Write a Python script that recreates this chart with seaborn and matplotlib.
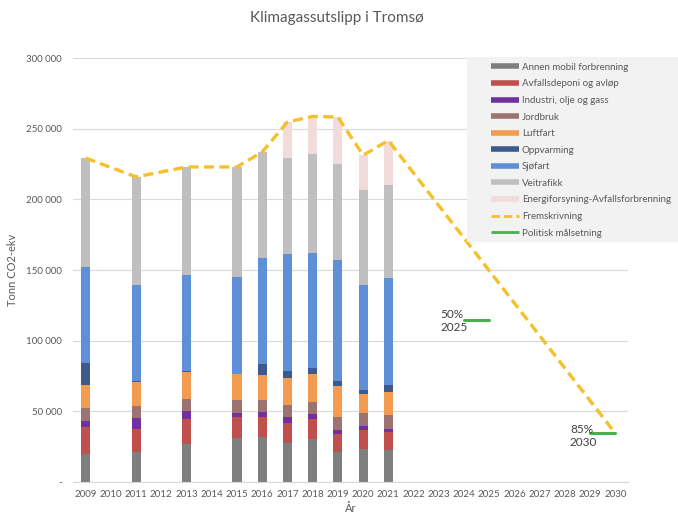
import pandas as pd
import numpy as np
import matplotlib.pyplot as plt
import seaborn as sns
from matplotlib.lines import Line2D
from matplotlib.patches import Rectangle
from matplotlib.ticker import FuncFormatter, MultipleLocator

# data (tonn CO2-ekv)
years = [2009, 2011, 2013, 2015, 2016, 2017, 2018, 2019, 2020, 2021]
annen_mobil = [20000, 21000, 27100, 30800, 31500, 27300, 30600, 21400, 23300, 22900]
avfallsdeponi = [18800, 16500, 17700, 15500, 14400, 14600, 13700, 12700, 13700, 12500]
industri = [4500, 7800, 5200, 2800, 3300, 4000, 3800, 2800, 2400, 2400]
jordbruk = [8900, 8700, 8900, 8900, 8900, 8700, 8500, 8900, 9400, 9400]
luftfart = [16700, 16900, 18600, 18400, 17900, 19100, 20000, 22400, 13400, 16500]
oppvarming = [15500, 700, 700, 300, 7500, 4900, 4000, 3300, 3100, 4700]
sjofart = [67800, 67800, 68300, 68000, 75300, 82400, 81700, 85400, 74200, 75900]
veitrafikk = [77000, 76500, 76500, 78400, 74600, 68300, 70100, 68300, 67100, 65500]
energi = [0, 0, 0, 0, 0, 25400, 26400, 33000, 24700, 31800]

frem_years = [2009, 2011, 2013, 2015, 2016, 2017, 2018, 2019, 2020, 2021, 2030]
fremskrivning = [229200, 215900, 222900, 222900, 233500, 254700, 258700, 258200, 231200, 241600, 34400]

mal_years = [2024, 2025, 2029, 2030]
mal_values = [114600, 114600, 34400, 34400]
mal_group = ["2025", "2025", "2030", "2030"]

all_years = list(range(2009, 2031))

layers = [
    ("Annen mobil forbrenning", annen_mobil, "#7f7f7f"),
    ("Avfallsdeponi og avløp", avfallsdeponi, "#c0504d"),
    ("Industri, olje og gass", industri, "#7030a0"),
    ("Jordbruk", jordbruk, "#9c7371"),
    ("Luftfart", luftfart, "#f39b4e"),
    ("Oppvarming", oppvarming, "#3c5b8c"),
    ("Sjøfart", sjofart, "#5f8fd6"),
    ("Veitrafikk", veitrafikk, "#bfbfbf"),
    ("Energiforsyning-Avfallsforbrenning", energi, "#f2dcdb"),
]

df = pd.DataFrame({"År": years})
for name, vals, col in layers:
    df[name] = vals

sns.set_style("white")
plt.rcParams["font.family"] = ["Lato", "DejaVu Sans"]

fig = plt.figure(figsize=(6.78, 5.15), dpi=100)
ax = fig.add_axes([73 / 678, 1 - 482 / 515, 555 / 678, 424 / 515])

# stacked bars: draw cumulative sums from the top layer down
cum = df[[l[0] for l in layers]].cumsum(axis=1)
for name, vals, col in reversed(layers):
    sns.barplot(x=df["År"], y=cum[name], color=col, width=0.36, native_scale=True,
                saturation=1, ax=ax, linewidth=0)

frem = pd.DataFrame({"År": frem_years, "verdi": fremskrivning})
sns.lineplot(data=frem, x="År", y="verdi", color="#f5c02c", linewidth=2.4,
             dashes=False, linestyle=(0, (3, 1.6)), ax=ax)

mal = pd.DataFrame({"År": mal_years, "verdi": mal_values, "gruppe": mal_group})
sns.lineplot(data=mal, x="År", y="verdi", units="gruppe", estimator=None,
             color="#4bae4f", linewidth=2.2, ax=ax)

ax.text(2023.05, 114000, "50%\n2025", fontsize=8.5, color="#404040", va="center", ha="left")
ax.text(2028.2, 32700, "85%\n2030", fontsize=8.5, color="#404040", va="center", ha="left")

ax.set_xlim(2008.5, 2030.5)
ax.set_ylim(0, 300000)
ax.set_xticks(all_years)
ax.set_xticklabels([str(y) for y in all_years])
ax.xaxis.set_minor_locator(MultipleLocator(1, offset=0.5))
ax.tick_params(axis="x", which="major", length=0, labelsize=7, colors="#595959", pad=6)
ax.tick_params(axis="x", which="minor", length=4, color="#d9d9d9", width=0.8)
ax.yaxis.set_major_locator(MultipleLocator(50000))
ax.yaxis.set_major_formatter(FuncFormatter(lambda v, p: "-" if v == 0 else f"{int(v):,}".replace(",", " ")))
ax.tick_params(axis="y", length=0, labelsize=7, colors="#595959", pad=8)
ax.grid(axis="y", color="#d9d9d9", linewidth=0.8)
ax.set_axisbelow(True)
for s in ["top", "right", "left"]:
    ax.spines[s].set_visible(False)
ax.spines["bottom"].set_color("#d9d9d9")

ax.set_xlabel("År", fontsize=8, color="#595959", labelpad=3)
ax.set_ylabel("Tonn CO2-ekv", fontsize=8, color="#595959", labelpad=6)
fig.text(0.497, 1 - 18 / 515, "Klimagassutslipp i Tromsø", fontsize=11, color="#595959",
         ha="center", va="center")

# legend background box reaching the right edge of the figure
fig.patches.append(Rectangle((467 / 678, 1 - 242 / 515), 211 / 678, 185 / 515,
                             transform=fig.transFigure, facecolor="#f2f2f2",
                             edgecolor="none", zorder=5))

handles = [Line2D([0], [0], color=col, linewidth=4, solid_capstyle="butt") for name, vals, col in layers]
labels = [name for name, vals, col in layers]
handles.append(Line2D([0], [0], color="#f5c02c", linewidth=2, linestyle=(0, (3, 1.5)),
                      dash_capstyle="butt"))
labels.append("Fremskrivning")
handles.append(Line2D([0], [0], color="#4bae4f", linewidth=2, solid_capstyle="butt"))
labels.append("Politisk målsetning")

leg = fig.legend(handles, labels, loc="upper left", bbox_to_anchor=(483 / 678, 1 - 55 / 515),
                 fontsize=7, frameon=False, handlelength=2.9,
                 labelspacing=0.78, borderpad=0.3, handletextpad=0.3,
                 labelcolor="#595959")
leg.set_zorder(6)

fig.savefig("out.png", dpi=100)
